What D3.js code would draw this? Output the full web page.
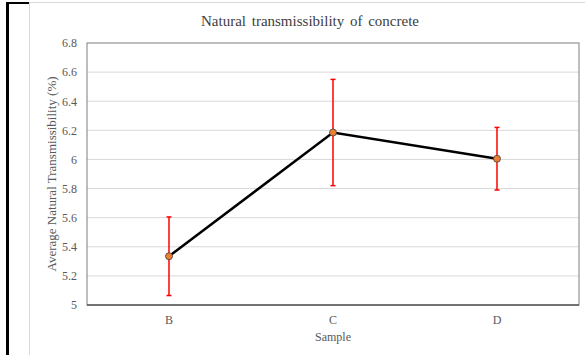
<!DOCTYPE html>
<html><head><meta charset="utf-8">
<script src="https://cdn.jsdelivr.net/npm/d3@7"></script>
<style>html,body{margin:0;padding:0;background:#fff;}svg{display:block;}</style>
</head><body>
<svg id="chart" width="585" height="355"></svg>
<script>
const categories = ["B", "C", "D"];
const values = [5.335, 6.185, 6.005];
const errors = [0.27, 0.365, 0.215];
const yTicks = [5, 5.2, 5.4, 5.6, 5.8, 6, 6.2, 6.4, 6.6, 6.8];
const tickLabels = ["5", "5.2", "5.4", "5.6", "5.8", "6", "6.2", "6.4", "6.6", "6.8"];
const title = "Natural transmissibility of concrete";
const xTitle = "Sample";
const yTitle = "Average Natural Transmissibility (%)";

const svg = d3.select("#chart");
const font = "Liberation Serif";
const plot = {left: 87, right: 579, top: 43, bottom: 305};

// outer frame
svg.append("line").attr("x1", 29.5).attr("x2", 29.5).attr("y1", 2).attr("y2", 355).attr("stroke", "#d9d9d9").attr("stroke-width", 1);
svg.append("line").attr("x1", 30).attr("x2", 585).attr("y1", 2.5).attr("y2", 2.5).attr("stroke", "#d9d9d9").attr("stroke-width", 1);
svg.append("line").attr("x1", 6).attr("x2", 29).attr("y1", 3).attr("y2", 3).attr("stroke", "#000").attr("stroke-width", 2);
svg.append("line").attr("x1", 7.5).attr("x2", 7.5).attr("y1", 2).attr("y2", 355).attr("stroke", "#000").attr("stroke-width", 3);

const x = d3.scaleBand().domain(categories).range([plot.left, plot.right]);
const y = d3.scaleLinear().domain([5, 6.8]).range([plot.bottom, plot.top]);

// gridlines
svg.append("g").selectAll("line").data(yTicks.slice(1, -1)).join("line")
  .attr("x1", plot.left).attr("x2", plot.right)
  .attr("y1", d => y(d)).attr("y2", d => y(d))
  .attr("stroke", "#d9d9d9").attr("stroke-width", 1);

// plot border
svg.append("rect").attr("x", plot.left).attr("y", plot.top)
  .attr("width", plot.right - plot.left).attr("height", plot.bottom - plot.top)
  .attr("fill", "none").attr("stroke", "#7f7f7f").attr("stroke-width", 1);
svg.append("line").attr("x1", plot.left).attr("x2", plot.right)
  .attr("y1", plot.bottom).attr("y2", plot.bottom).attr("stroke", "#595959").attr("stroke-width", 1.5);

// y axis
const yAxis = d3.axisLeft(y).tickValues(yTicks).tickSize(0).tickPadding(10)
  .tickFormat((d, i) => tickLabels[i]);
const gy = svg.append("g").attr("transform", `translate(${plot.left},0)`).call(yAxis)
  .attr("font-family", font).attr("font-size", 12);
gy.select(".domain").remove();
gy.selectAll("text").attr("fill", "#595959");

// x axis
const xAxis = d3.axisBottom(x).tickSize(0).tickPadding(10);
const gx = svg.append("g").attr("transform", `translate(0,${plot.bottom})`).call(xAxis)
  .attr("font-family", font).attr("font-size", 12);
gx.select(".domain").remove();
gx.selectAll("text").attr("fill", "#595959");

// titles
svg.append("text").attr("x", 310).attr("y", 26).attr("text-anchor", "middle")
  .attr("font-family", font).attr("font-size", 15).attr("fill", "#404040")
  .attr("word-spacing", 2).text(title);
svg.append("text").attr("x", (plot.left + plot.right) / 2).attr("y", 341).attr("text-anchor", "middle")
  .attr("font-family", font).attr("font-size", 12).attr("fill", "#595959").text(xTitle);
svg.append("text").attr("transform", `translate(56,${(plot.top + plot.bottom) / 2}) rotate(-90)`)
  .attr("text-anchor", "middle").attr("font-family", font).attr("font-size", 13)
  .attr("fill", "#595959").text(yTitle);

const cx = d => x(d) + x.bandwidth() / 2;
const data = categories.map((c, i) => ({c, v: values[i], e: errors[i]}));

// error bars
const eb = svg.append("g").attr("stroke", "#ff0000").attr("stroke-width", 1.5);
eb.selectAll("line.v").data(data).join("line").attr("class", "v")
  .attr("x1", d => cx(d.c)).attr("x2", d => cx(d.c))
  .attr("y1", d => y(d.v - d.e)).attr("y2", d => y(d.v + d.e));
eb.selectAll("line.t").data(data).join("line").attr("class", "t")
  .attr("x1", d => cx(d.c) - 2.5).attr("x2", d => cx(d.c) + 2.5)
  .attr("y1", d => y(d.v + d.e)).attr("y2", d => y(d.v + d.e));
eb.selectAll("line.b").data(data).join("line").attr("class", "b")
  .attr("x1", d => cx(d.c) - 2.5).attr("x2", d => cx(d.c) + 2.5)
  .attr("y1", d => y(d.v - d.e)).attr("y2", d => y(d.v - d.e));

// line
svg.append("path").datum(data)
  .attr("d", d3.line().x(d => cx(d.c)).y(d => y(d.v)))
  .attr("fill", "none").attr("stroke", "#000").attr("stroke-width", 2.5);

// markers
svg.append("g").selectAll("circle").data(data).join("circle")
  .attr("cx", d => cx(d.c)).attr("cy", d => y(d.v)).attr("r", 3.5)
  .attr("fill", "#ed7d31").attr("stroke", "#404040").attr("stroke-width", 0.8);
</script>
</body></html>
